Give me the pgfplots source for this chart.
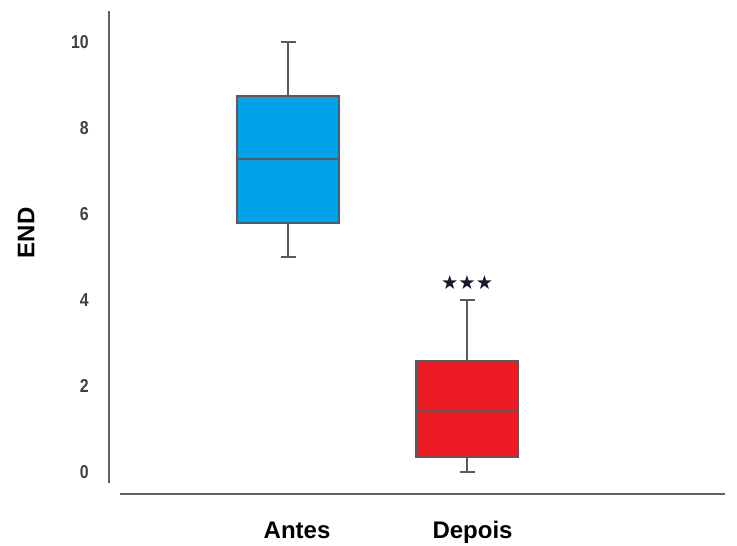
\documentclass[border=0pt]{standalone}
\usepackage{pgfplots}
\pgfplotsset{compat=1.18}
\usepgfplotslibrary{statistics}
\usepackage{fontspec}
\setmainfont{Liberation Sans}
\newfontfamily\narrowsans[FakeStretch=0.85]{Liberation Sans}
\newfontfamily\symfont{DejaVu Sans}
\definecolor{antesblue}{HTML}{00A2E8}
\definecolor{depoisred}{HTML}{ED1C24}
\definecolor{linegray}{HTML}{5A5A5A}
\definecolor{axisgray}{HTML}{606060}
\definecolor{ticktext}{HTML}{404040}
\definecolor{startext}{HTML}{1A1A2A}
\begin{document}
\begin{tikzpicture}
% fixed canvas (1px = 0.75pt)
\path[use as bounding box] (-81.75pt,-38.25pt) rectangle (471pt,370.5pt);
\begin{axis}[
  scale only axis,
  width=462pt, height=362.25pt,
  xmin=0, xmax=3.44, ymin=-0.51, ymax=10.72,
  boxplot/draw direction=y,
  axis line style={draw=none},
  major tick length=0pt,
  xtick={1.05,2.03}, xticklabels={Antes,Depois},
  ytick={0,2,4,6,8,10},
  yticklabels={0,2,4,6,8,10},
  yticklabel style={font=\narrowsans\bfseries\fontsize{14}{14}\selectfont, text=ticktext,
     anchor=east, inner sep=0pt, xshift=-15pt},
  xticklabel style={font=\bfseries\fontsize{18}{18}\selectfont, anchor=north, inner sep=0pt,
     text height=13pt, text depth=4pt, yshift=-20pt},
  clip=false,
]
\addplot+[boxplot prepared={draw position=1, median=7.28, upper quartile=8.74,
   lower quartile=5.79, upper whisker=10, lower whisker=5,
   box extend=0.57, whisker extend=0.084},
   draw=linegray, fill=antesblue, line width=1.5pt, solid, mark=none]
   coordinates {};
\addplot+[boxplot prepared={draw position=2, median=1.44, upper quartile=2.58,
   lower quartile=0.35, upper whisker=4, lower whisker=0,
   box extend=0.57, whisker extend=0.084},
   draw=linegray, fill=depoisred, line width=1.5pt, solid, mark=none]
   coordinates {};
% detached axis lines
\draw[axisgray, line width=2pt] (axis cs:0,-0.26) -- (axis cs:0,10.72);
\draw[axisgray, line width=2pt] (axis cs:0.06,-0.51) -- (axis cs:3.44,-0.51);
% significance marker
\node[font=\symfont\fontsize{14.5}{14.5}\selectfont, text=startext, inner sep=0pt]
  at (axis cs:2.0,4.40) {★★★};
\end{axis}
\node[rotate=90, font=\bfseries\fontsize{18}{18}\selectfont] at (-62.25pt,195.75pt) {END};
\end{tikzpicture}
\end{document}
